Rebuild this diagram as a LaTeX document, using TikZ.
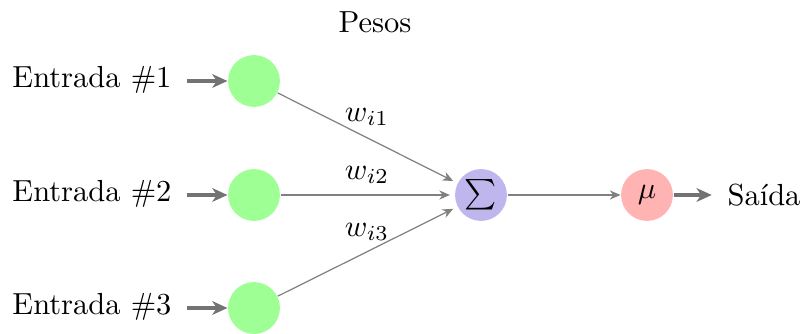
\documentclass[tikz,border=0pt]{standalone}
\usetikzlibrary{arrows.meta}
\definecolor{ingreen}{RGB}{157,255,148}
\definecolor{sumblue}{RGB}{190,182,236}
\definecolor{mured}{RGB}{255,179,179}
\begin{document}
\begin{tikzpicture}[x=0.328pt,y=-0.328pt,
  neuron/.style={circle,minimum size=17pt,inner sep=0pt,draw=none},
  inneuron/.style={neuron,fill=ingreen},
  thickarrow/.style={draw=black!55,line width=1.05pt,-{Stealth[length=5pt,width=4.5pt,inset=1.5pt]}},
  thinarrow/.style={draw=black!50,line width=0.4pt,-{Stealth[length=3.5pt,width=3pt]}},
  lbl/.style={inner sep=0pt}]
\useasboundingbox (0,0) rectangle (803,334);
\node[inneuron] (i1) at (254,81) {};
\node[inneuron] (i2) at (254,195) {};
\node[inneuron] (i3) at (254,308) {};
\node[neuron,fill=sumblue] (sum) at (481,195) {$\sum$};
\node[neuron,fill=mured] (mu) at (647,195) {$\mu$};
\node[lbl,anchor=east] (e1) at (172,80) {Entrada \#1};
\node[lbl,anchor=east] (e2) at (172,194) {Entrada \#2};
\node[lbl,anchor=east] (e3) at (172,307) {Entrada \#3};
\node[lbl,anchor=west] (out) at (727,195) {Saída};
\node[lbl] (pesos) at (375,22) {Pesos};
\node[lbl] (w1) at (367,117) {$w_{i1}$};
\node[lbl] (w2) at (367,175) {$w_{i2}$};
\node[lbl] (w3) at (367,232) {$w_{i3}$};
\draw[thickarrow] ([xshift=5pt]e1.east |- i1) -- (i1.west);
\draw[thickarrow] ([xshift=5pt]e2.east |- i2) -- (i2.west);
\draw[thickarrow] ([xshift=5pt]e3.east |- i3) -- (i3.west);
\draw[thinarrow,shorten >=1.5pt] (i1) -- (sum);
\draw[thinarrow,shorten >=1.5pt] (i2) -- (sum);
\draw[thinarrow,shorten >=1.5pt] (i3) -- (sum);
\draw[thinarrow] (sum) -- (mu);
\draw[thickarrow] (mu) -- ([xshift=-5pt]out.west);
\end{tikzpicture}
\end{document}
